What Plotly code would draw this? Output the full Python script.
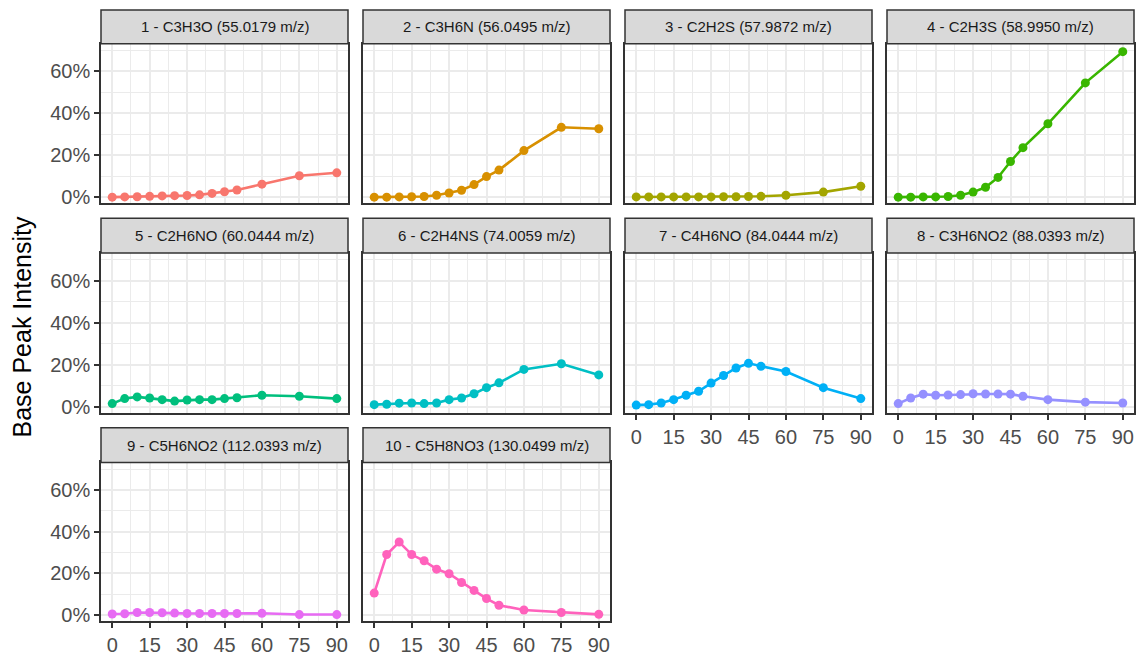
import plotly.graph_objects as go

# Sampling times shared by every ion trace
times = [0, 5, 10, 15, 20, 25, 30, 35, 40, 45, 50, 60, 75, 90]

ion_labels = [
    "1 - C3H3O (55.0179 m/z)",
    "2 - C3H6N (56.0495 m/z)",
    "3 - C2H2S (57.9872 m/z)",
    "4 - C2H3S (58.9950 m/z)",
    "5 - C2H6NO (60.0444 m/z)",
    "6 - C2H4NS (74.0059 m/z)",
    "7 - C4H6NO (84.0444 m/z)",
    "8 - C3H6NO2 (88.0393 m/z)",
    "9 - C5H6NO2 (112.0393 m/z)",
    "10 - C5H8NO3 (130.0499 m/z)",
]

# Base peak intensity (%) per ion
ion1 = [0.0, 0.1, 0.2, 0.4, 0.6, 0.7, 0.8, 1.1, 1.8, 2.6, 3.4, 6.2, 10.2, 11.6]
ion2 = [0.0, 0.0, 0.1, 0.2, 0.3, 0.9, 2.0, 3.3, 6.0, 9.8, 12.9, 22.2, 33.3, 32.6]
ion3 = [0.1, 0.1, 0.1, 0.1, 0.1, 0.1, 0.1, 0.2, 0.2, 0.3, 0.4, 0.9, 2.4, 5.2]
ion4 = [0.0, 0.0, 0.1, 0.1, 0.3, 0.9, 2.4, 4.7, 9.4, 17.0, 23.6, 35.0, 54.5, 69.4]
ion5 = [1.4, 3.8, 4.6, 4.1, 3.3, 2.6, 3.1, 3.3, 3.3, 3.8, 4.2, 5.4, 4.9, 3.8]
ion6 = [0.9, 1.1, 1.6, 1.7, 1.4, 1.7, 3.3, 4.1, 6.1, 9.0, 11.3, 17.7, 20.4, 15.1]
ion7 = [0.7, 0.9, 1.7, 3.3, 5.4, 7.3, 11.2, 14.8, 18.4, 20.6, 19.2, 16.7, 9.0, 3.8]
ion8 = [1.4, 4.1, 5.9, 5.4, 5.5, 5.7, 6.1, 6.0, 6.0, 5.9, 4.9, 3.3, 2.1, 1.7]
ion9 = [0.5, 0.6, 1.2, 1.2, 1.1, 0.9, 0.7, 0.7, 0.7, 0.7, 0.7, 0.8, 0.2, 0.2]
ion10 = [10.5, 29.0, 35.0, 29.0, 26.0, 22.0, 19.8, 15.6, 11.8, 7.9, 4.7, 2.4, 1.2, 0.3]

series = [ion1, ion2, ion3, ion4, ion5, ion6, ion7, ion8, ion9, ion10]

colors = ["#F8766D", "#D89000", "#A3A500", "#39B600", "#00BF7D",
          "#00BFC4", "#00B0F6", "#9590FF", "#E76BF3", "#FF62BC"]

x_ticks = [0, 15, 30, 45, 60, 75, 90]
y_ticks = [0, 20, 40, 60]
y_tick_text = ["0%", "20%", "40%", "60%"]

W, H = 1139, 657
FONT = "Liberation Sans, Arial, sans-serif"

# Panel geometry in pixels
col_x = [(101, 348), (363, 610), (625, 872), (887, 1134)]
rows = [  # (strip top, panel top, panel bottom)
    (10, 44, 205),
    (220, 255, 416),
    (431, 466, 626),
]

fig = go.Figure()
shapes = []
annotations = []

for i, (label, vals, col) in enumerate(zip(ion_labels, series, colors)):
    r, c = divmod(i, 4)
    x0, x1 = col_x[c]
    st, pt, pb = rows[r]
    n = i + 1
    xa = "x" if n == 1 else f"x{n}"
    ya = "y" if n == 1 else f"y{n}"

    fig.add_trace(go.Scatter(
        x=times, y=vals, mode="lines+markers",
        line=dict(color=col, width=2.6),
        marker=dict(color=col, size=9),
        xaxis=xa, yaxis=ya, showlegend=False, cliponaxis=False,
    ))

    show_x = (r == 2) or (r == 1 and c >= 2)
    show_y = c == 0

    xaxis = dict(
        domain=[x0 / W, x1 / W], anchor=ya, range=[-4.5, 94.5],
        tickmode="array", tickvals=x_ticks,
        showticklabels=show_x, ticks="outside" if show_x else "",
        ticklen=5, tickwidth=1.8, tickcolor="#333333",
        tickfont=dict(family=FONT, size=20, color="#4D4D4D"),
        showgrid=True, gridcolor="#EBEBEB", gridwidth=2,
        minor=dict(tickmode="array",
                   tickvals=[7.5, 22.5, 37.5, 52.5, 67.5, 82.5],
                   showgrid=True, gridcolor="#EBEBEB", gridwidth=1),
        showline=True, mirror=True, linecolor="#333333", linewidth=1.5,
        zeroline=False, fixedrange=True,
    )
    yaxis = dict(
        domain=[1 - pb / H, 1 - pt / H], anchor=xa, range=[-3.0, 73.2],
        tickmode="array", tickvals=y_ticks, ticktext=y_tick_text,
        showticklabels=show_y, ticks="outside" if show_y else "",
        ticklen=5, tickwidth=1.8, tickcolor="#333333",
        tickfont=dict(family=FONT, size=20, color="#4D4D4D"),
        showgrid=True, gridcolor="#EBEBEB", gridwidth=2,
        minor=dict(tickmode="array", tickvals=[10, 30, 50, 70],
                   showgrid=True, gridcolor="#EBEBEB", gridwidth=1),
        showline=True, mirror=True, linecolor="#333333", linewidth=1.5,
        zeroline=False, fixedrange=True,
    )
    fig.update_layout(**{
        ("xaxis" if n == 1 else f"xaxis{n}"): xaxis,
        ("yaxis" if n == 1 else f"yaxis{n}"): yaxis,
    })

    # Facet strip
    shapes.append(dict(
        type="rect", xref="paper", yref="paper",
        x0=x0 / W, x1=x1 / W, y0=1 - pt / H, y1=1 - st / H,
        fillcolor="#D9D9D9", line=dict(color="#333333", width=1.5),
        layer="above",
    ))
    annotations.append(dict(
        text=label, xref="paper", yref="paper",
        x=(x0 + x1) / 2 / W, y=1 - (st + pt) / 2 / H,
        xanchor="center", yanchor="middle", showarrow=False,
        font=dict(family=FONT, size=15, color="#1A1A1A"),
    ))

annotations.append(dict(
    text="Base Peak Intensity", xref="paper", yref="paper",
    x=22 / W, y=1 - 330 / H, xanchor="center", yanchor="middle",
    textangle=-90, showarrow=False,
    font=dict(family=FONT, size=25, color="#000000"),
))

fig.update_layout(
    width=W, height=H,
    margin=dict(l=0, r=0, t=0, b=0),
    paper_bgcolor="white", plot_bgcolor="white",
    shapes=shapes, annotations=annotations,
    showlegend=False,
)

fig.write_html("out.html", config={"displayModeBar": False})
